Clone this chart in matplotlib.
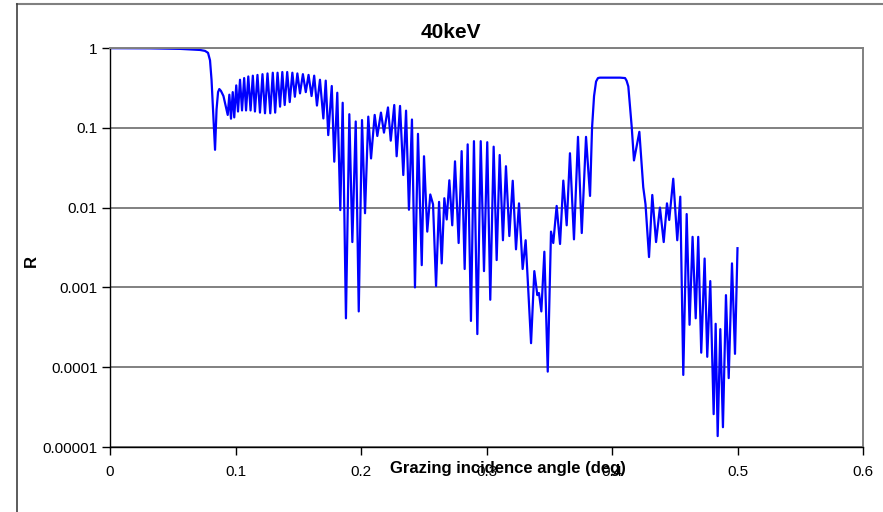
import matplotlib
matplotlib.use("Agg")
import matplotlib.pyplot as plt
from matplotlib.ticker import FixedLocator, FixedFormatter, NullLocator
from matplotlib.lines import Line2D

# Reflectivity curve at 40 keV: grazing angle (deg) and reflectivity R
angle_deg = [
    0.0, 0.0319, 0.0558, 0.0717, 0.0757, 0.0781, 0.0797, 0.0809, 0.0821, 0.0837,
    0.0849, 0.0861, 0.0871, 0.0884, 0.0904,
    0.0938, 0.0951, 0.0964, 0.0978, 0.0990, 0.1006, 0.1020, 0.1036, 0.1052, 0.1069,
    0.1084, 0.1102, 0.1120, 0.1138, 0.1155, 0.1175, 0.1195, 0.1215, 0.1235, 0.1255,
    0.1277, 0.1297, 0.1316, 0.1335, 0.1355, 0.1373, 0.1392, 0.1412, 0.1432, 0.1453,
    0.1473, 0.1493, 0.1514, 0.1537, 0.1560, 0.1582, 0.1606, 0.1627, 0.1649, 0.1673,
    0.1700, 0.1719, 0.1739, 0.1767, 0.1787, 0.1811, 0.1835, 0.1854, 0.1880, 0.1907,
    0.1931, 0.1958, 0.1982, 0.2008, 0.2032, 0.2058, 0.2080, 0.2109, 0.2130, 0.2159,
    0.2183, 0.2215, 0.2237, 0.2265, 0.2284, 0.2311, 0.2337, 0.2359, 0.2382, 0.2406,
    0.2430, 0.2454, 0.2484, 0.2502, 0.2528, 0.2552, 0.2574, 0.2598, 0.2622, 0.2643,
    0.2664, 0.2683, 0.2704, 0.2727, 0.2749, 0.2778, 0.2802, 0.2826, 0.2850, 0.2876,
    0.2900, 0.2927, 0.2954, 0.2980, 0.3006, 0.3030, 0.3057, 0.3081, 0.3105, 0.3131,
    0.3155, 0.3182, 0.3209, 0.3235, 0.3259, 0.3288, 0.3312, 0.3355, 0.3381, 0.3405,
    0.3418, 0.3437, 0.3461, 0.3488, 0.3514, 0.3532, 0.3559, 0.3586, 0.3612, 0.3639,
    0.3665, 0.3697, 0.3729, 0.3759, 0.3793, 0.3825, 0.3841, 0.3857, 0.3873, 0.3888,
    0.3904, 0.4064, 0.4104, 0.4116, 0.4130, 0.4157, 0.4175, 0.4218, 0.4249, 0.4267,
    0.4295, 0.4321, 0.4351, 0.4382, 0.4412, 0.4438, 0.4456, 0.4488, 0.4520, 0.4544,
    0.4568, 0.4595, 0.4618, 0.4642, 0.4667, 0.4687, 0.4711, 0.4738, 0.4759, 0.4783,
    0.4810, 0.4826, 0.4842, 0.4863, 0.4884, 0.4908, 0.4930, 0.4956, 0.4980, 0.5000,
]
reflectivity = [
    0.995, 0.99, 0.975, 0.945, 0.92, 0.87, 0.70, 0.40, 0.17, 0.053,
    0.17, 0.28, 0.306, 0.29, 0.25,
    0.145, 0.26, 0.13, 0.28, 0.135, 0.34, 0.16, 0.40, 0.165, 0.42,
    0.165, 0.44, 0.165, 0.45, 0.16, 0.46, 0.155, 0.47, 0.152, 0.48,
    0.152, 0.49, 0.155, 0.49, 0.184, 0.50, 0.193, 0.50, 0.21, 0.49,
    0.245, 0.48, 0.27, 0.47, 0.28, 0.46, 0.25, 0.45, 0.19, 0.40,
    0.131, 0.39, 0.081, 0.334, 0.0376, 0.275, 0.0093, 0.206, 0.00041, 0.148,
    0.0037, 0.12, 0.0005, 0.125, 0.0085, 0.138, 0.0413, 0.145, 0.079, 0.155,
    0.087, 0.18, 0.069, 0.193, 0.044, 0.188, 0.0256, 0.164, 0.0094, 0.127,
    0.001, 0.084, 0.0019, 0.044, 0.005, 0.0146, 0.011, 0.00104, 0.0118, 0.0020,
    0.0131, 0.0071, 0.022, 0.006, 0.038, 0.0036, 0.051, 0.0017, 0.062, 0.00038,
    0.068, 0.00026, 0.068, 0.0016, 0.066, 0.0007, 0.058, 0.0022, 0.0456, 0.0039,
    0.033, 0.0044, 0.0217, 0.0030, 0.0113, 0.0017, 0.0039, 0.0002, 0.0016, 0.0008,
    0.00085, 0.0005, 0.0028, 0.000088, 0.005, 0.0036, 0.0105, 0.0035, 0.0218, 0.006,
    0.048, 0.004, 0.077, 0.0048, 0.077, 0.014, 0.1, 0.25, 0.38, 0.42,
    0.425, 0.425, 0.42, 0.39, 0.33, 0.103, 0.039, 0.089, 0.018, 0.011,
    0.0024, 0.0144, 0.0037, 0.010, 0.0037, 0.0113, 0.007, 0.023, 0.0039, 0.0137,
    0.00008, 0.0083, 0.00034, 0.0043, 0.00041, 0.0043, 0.000152, 0.0023, 0.000135, 0.0012,
    0.0000258, 0.00035, 0.0000137, 0.0003, 0.0000177, 0.0008, 0.000073, 0.002, 0.000147, 0.0031,
]

x_ticks = [0, 0.1, 0.2, 0.3, 0.4, 0.5, 0.6]
x_tick_labels = ["0", "0.1", "0.2", "0.3", "0.4", "0.5", "0.6"]
y_ticks = [1e-5, 1e-4, 1e-3, 1e-2, 1e-1, 1]
y_tick_labels = ["0.00001", "0.0001", "0.001", "0.01", "0.1", "1"]

W, H = 883, 512
fig = plt.figure(figsize=(W / 100, H / 100), dpi=100)
plt.rcParams["font.family"] = ["Liberation Sans", "DejaVu Sans"]

left, right, top, bottom = 110, 863, 48, 447
ax = fig.add_axes([left / W, 1 - bottom / H, (right - left) / W, (bottom - top) / H])

ax.plot(angle_deg, reflectivity, color="#0000FF", lw=1.6, solid_joinstyle="round")

ax.set_yscale("log")
ax.set_xlim(0, 0.6)
ax.set_ylim(1e-5, 1)
ax.xaxis.set_major_locator(FixedLocator(x_ticks))
ax.xaxis.set_major_formatter(FixedFormatter(x_tick_labels))
ax.yaxis.set_major_locator(FixedLocator(y_ticks))
ax.yaxis.set_major_formatter(FixedFormatter(y_tick_labels))
ax.yaxis.set_minor_locator(NullLocator())
ax.xaxis.set_minor_locator(NullLocator())

ax.grid(axis="y", color="#808080", lw=1.4)
ax.set_axisbelow(True)
ax.tick_params(axis="both", direction="out", length=6, width=1, color="black",
               labelsize=11, pad=3)
ax.tick_params(axis="x", pad=7)
for side in ("top", "right"):
    ax.spines[side].set_color("#808080")
    ax.spines[side].set_linewidth(1.4)
for side in ("left", "bottom"):
    ax.spines[side].set_color("black")
    ax.spines[side].set_linewidth(1.0)

# title and axis labels
fig.text(451 / W, 1 - 32 / H, "40keV", ha="center", va="center",
         fontsize=15, fontweight="bold")
fig.text(508 / W, 1 - 468 / H, "Grazing incidence angle (deg)", ha="center",
         va="center", fontsize=12, fontweight="bold")
fig.text(31 / W, 1 - 261 / H, "R", ha="center", va="center", rotation=90,
         fontsize=12, fontweight="bold")

# outer chart frame
fig.add_artist(Line2D([17 / W, 1], [1 - 4 / H, 1 - 4 / H], color="#808080", lw=1.5,
                      transform=fig.transFigure))
fig.add_artist(Line2D([17 / W, 17 / W], [1 - 4 / H, 0], color="#404040", lw=1.2,
                      transform=fig.transFigure))

fig.savefig("out.png", dpi=100)
